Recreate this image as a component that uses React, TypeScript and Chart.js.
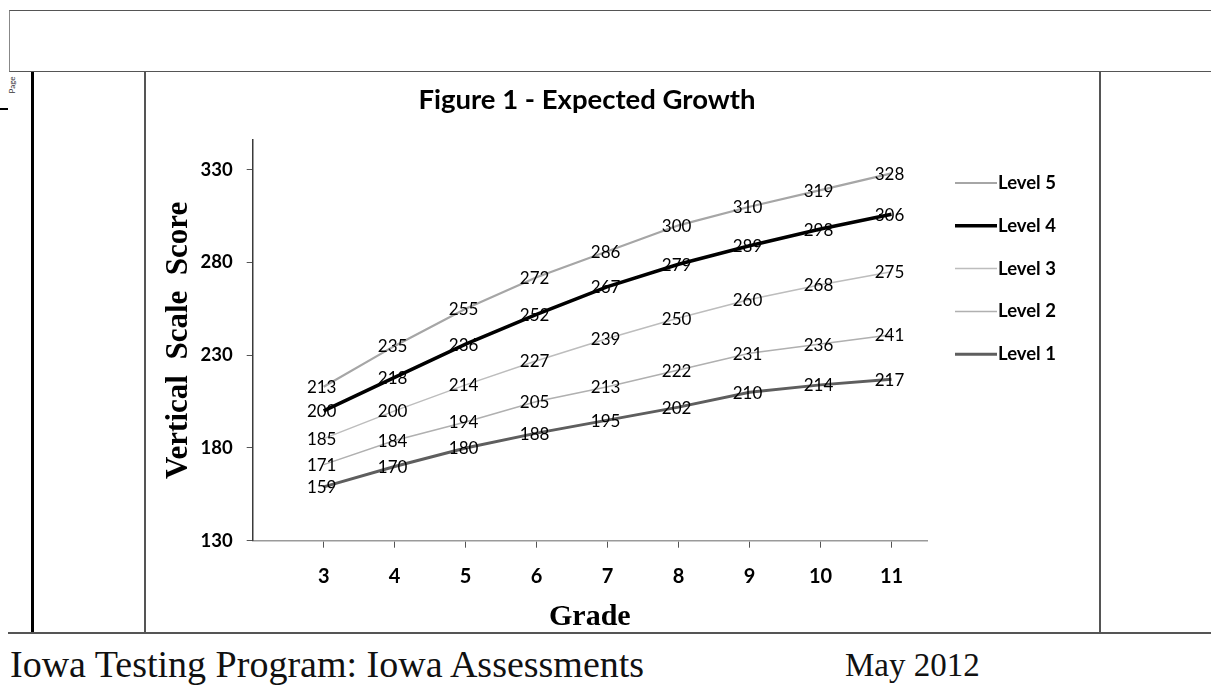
import React, { useEffect, useRef } from "react";
import { Chart, registerables } from "chart.js";

Chart.register(...registerables);

const grades = [3, 4, 5, 6, 7, 8, 9, 10, 11];
const level5 = [213, 235, 255, 272, 286, 300, 310, 319, 328];
const level4 = [200, 218, 236, 252, 267, 279, 289, 298, 306];
const level3 = [185, 200, 214, 227, 239, 250, 260, 268, 275];
const level2 = [171, 184, 194, 205, 213, 222, 231, 236, 241];
const level1 = [159, 170, 180, 188, 195, 202, 210, 214, 217];
const seriesNames = ["Level 5", "Level 4", "Level 3", "Level 2", "Level 1"];
const yTicks = [130, 180, 230, 280, 330];
const chartTitle = "Figure 1 - Expected Growth";
const yTitle = "Vertical  Scale  Score";
const xTitle = "Grade";

const seriesValues = [level5, level4, level3, level2, level1];
const seriesColors = ["#a6a6a6", "#000000", "#bdbdbd", "#b0b0b0", "#5e5e5e"];
const seriesWidths = [2.2, 3.5, 1.5, 1.5, 3];

const SANS = "Lato, 'Open Sans', sans-serif";
const SERIF = "'Liberation Serif', 'DejaVu Serif', serif";

const labelPlugin = {
  id: "valueLabels",
  afterDatasetsDraw(chart: any) {
    const ctx = chart.ctx;
    ctx.save();
    ctx.font = `17px ${SANS}`;
    ctx.fillStyle = "#000";
    ctx.textAlign = "center";
    ctx.textBaseline = "middle";
    chart.data.datasets.forEach((ds: any, di: number) => {
      const meta = chart.getDatasetMeta(di);
      meta.data.forEach((pt: any, i: number) => {
        ctx.fillText(String(ds.data[i].y), pt.x - 2, pt.y + 1);
      });
    });
    ctx.restore();
  },
};

const decorPlugin = {
  id: "decor",
  afterDraw(chart: any) {
    const ctx = chart.ctx;
    const area = chart.chartArea;
    ctx.save();
    // title
    ctx.font = `bold 27.5px ${SANS}`;
    ctx.fillStyle = "#000";
    ctx.textAlign = "center";
    ctx.textBaseline = "middle";
    ctx.fillText(chartTitle, 441, 27);
    // legend
    const lx = area.right + 28;
    chart.data.datasets.forEach((ds: any, i: number) => {
      const y = area.top + 43 + i * 42.8;
      ctx.strokeStyle = ds.borderColor;
      ctx.lineWidth = ds.borderWidth;
      ctx.beginPath();
      ctx.moveTo(lx, y);
      ctx.lineTo(lx + 42, y);
      ctx.stroke();
      ctx.font = `bold 18.5px ${SANS}`;
      ctx.fillStyle = "#000";
      ctx.textAlign = "left";
      ctx.fillText(ds.label, lx + 43, y);
    });
    ctx.restore();
  },
};

function ExpectedGrowthChart() {
  const ref = useRef<HTMLCanvasElement | null>(null);
  useEffect(() => {
    if (!ref.current) return;
    const chart = new Chart(ref.current, {
      type: "line",
      data: {
        datasets: seriesValues.map((vals, si) => ({
          label: seriesNames[si],
          data: grades.map((g, i) => ({ x: g, y: vals[i] })),
          borderColor: seriesColors[si],
          backgroundColor: seriesColors[si],
          borderWidth: seriesWidths[si],
          pointRadius: 0,
          tension: 0,
          fill: false,
        })),
      },
      options: {
        responsive: false,
        animation: false,
        layout: { padding: { top: 67, right: 172, left: 0, bottom: 0 } },
        plugins: {
          legend: { display: false },
          title: { display: false },
          tooltip: { enabled: false },
        },
        scales: {
          x: {
            type: "linear",
            min: 2,
            max: 11.5,
            afterBuildTicks: (s: any) => {
              s.ticks = grades.map((g) => ({ value: g }));
            },
            afterFit: (s: any) => {
              s.height = 91.3;
            },
            border: { display: true, color: "#9a9a9a", width: 1.5 },
            grid: { drawOnChartArea: false, drawTicks: true, tickLength: 7, color: "#555" },
            ticks: {
              color: "#000",
              font: { family: SANS, size: 20, weight: "bold" },
              padding: 17,
              maxRotation: 0,
              autoSkip: false,
              callback: (v: any) => String(v),
            },
            title: {
              display: true,
              text: xTitle,
              color: "#000",
              font: { family: SERIF, size: 30, weight: "bold", lineHeight: 1 },
              padding: { top: 0, bottom: 0 },
            },
          },
          y: {
            type: "linear",
            min: 130,
            max: 346,
            afterBuildTicks: (s: any) => {
              s.ticks = yTicks.map((v) => ({ value: v }));
            },
            afterFit: (s: any) => {
              s.width = 106.7;
            },
            border: { display: true, color: "#3a3a3a", width: 1.5 },
            grid: { drawOnChartArea: false, drawTicks: true, tickLength: 6, color: "#555" },
            ticks: {
              color: "#000",
              font: { family: SANS, size: 18.5, weight: "bold" },
              padding: 14,
              autoSkip: false,
              callback: (v: any) => String(v),
            },
            title: {
              display: true,
              text: yTitle,
              color: "#000",
              font: { family: SERIF, size: 31, weight: "bold", lineHeight: 1 },
              padding: { top: 17, bottom: 0 },
            },
          },
        },
      },
      plugins: [labelPlugin, decorPlugin],
    } as any);
    return () => chart.destroy();
  }, []);
  return <canvas ref={ref} width={953} height={559} style={{ display: "block" }} />;
}

export default function App() {
  const line = "#555";
  return (
    <div
      style={{
        position: "fixed",
        left: 0,
        top: 0,
        width: 1211,
        height: 691,
        background: "#fff",
        overflow: "hidden",
      }}
    >
      {/* top header box */}
      <div style={{ position: "absolute", left: 9, top: 10, width: 1210, height: 62, borderTop: `1.5px solid ${line}`, borderLeft: `1px solid #888`, borderBottom: `1.5px solid ${line}`, boxSizing: "border-box" }} />
      {/* Page tiny rotated text */}
      <div style={{ position: "absolute", left: 4, top: 80, fontSize: 8, fontFamily: SANS, transform: "rotate(-90deg)", color: "#333" }}>Page</div>
      {/* small dash */}
      <div style={{ position: "absolute", left: 0, top: 108, width: 8, height: 2, background: "#000" }} />
      {/* thick left vertical */}
      <div style={{ position: "absolute", left: 31, top: 72, width: 3, height: 561, background: "#000" }} />
      {/* chart frame verticals */}
      <div style={{ position: "absolute", left: 144, top: 72, width: 1.5, height: 561, background: line }} />
      <div style={{ position: "absolute", left: 1099, top: 72, width: 1.5, height: 561, background: line }} />
      {/* bottom line */}
      <div style={{ position: "absolute", left: 8, top: 632, width: 1203, height: 1.5, background: line }} />
      {/* chart */}
      <div style={{ position: "absolute", left: 146, top: 73 }}>
        <ExpectedGrowthChart />
      </div>
      {/* footer */}
      <div style={{ position: "absolute", left: 10, top: 645, fontFamily: SERIF, fontSize: 38, lineHeight: 1, color: "#111", whiteSpace: "nowrap" }}>
        Iowa Testing Program: Iowa Assessments
      </div>
      <div style={{ position: "absolute", left: 845, top: 649, fontFamily: SERIF, fontSize: 33, lineHeight: 1, color: "#111", whiteSpace: "nowrap" }}>
        May 2012
      </div>
    </div>
  );
}
